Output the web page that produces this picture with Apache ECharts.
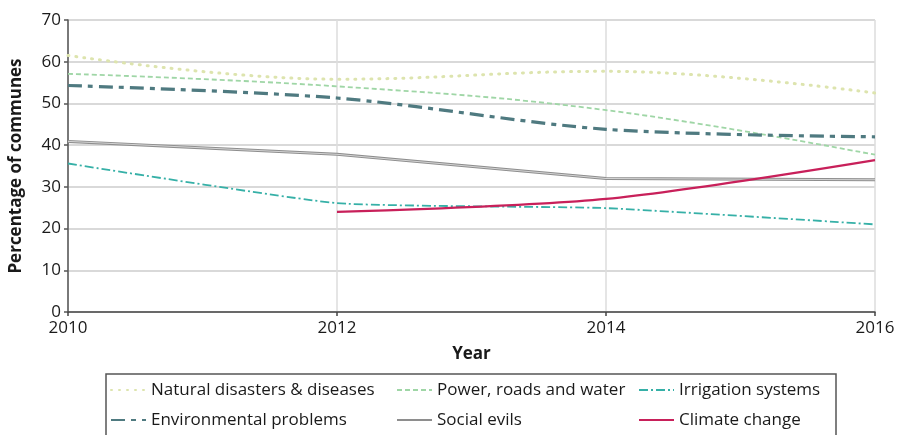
<!DOCTYPE html>
<html><head><meta charset="utf-8">
<script src="https://cdn.jsdelivr.net/npm/echarts@6/dist/echarts.min.js"></script>
<style>html,body{margin:0;padding:0;background:#fff}#c{width:899px;height:435px}</style>
</head><body><div id="c"></div>
<script>
var years = [2010, 2012, 2014, 2016];
var naturalDisasters = [61.5, 55.8, 57.7, 52.5];
var powerRoadsWater = [57.1, 54.1, 48.4, 37.7];
var irrigationSystems = [35.6, 26.1, 24.9, 21.0];
var environmentalProblems = [54.3, 51.3, 43.8, 42.0];
var socialEvils = [40.9, 37.8, 32.0, 31.7];
var climateChange = [null, 24.0, 27.1, 36.4];
var yTicks = [0, 10, 20, 30, 40, 50, 60, 70];

function pairs(vals){ return years.map(function(y,i){ return vals[i]==null ? null : [y, vals[i]]; }).filter(function(p){return p;}); }

var FONT = 'Open Sans';
var chart = echarts.init(document.getElementById('c'), null, {renderer:'canvas'});
var legendText = {fontFamily: FONT, fontSize: 17, color: '#1a1a1a', lineHeight:18};
function legendCol(left, names){
  return {orient:'vertical', left:left, top:381, itemWidth:35, itemHeight:14, itemGap:12,
    padding:0, textStyle: legendText, data: names, selectedMode:false,
    itemStyle:{color:'transparent', borderColor:'transparent', borderWidth:0}};
}
var option = {
  animation:false,
  backgroundColor:'#fff',
  grid:{left:68, right:24, top:20, bottom:123},
  legend:[
    legendCol(110, ['Natural disasters & diseases','Environmental problems']),
    legendCol(396, ['Power, roads and water','Social evils']),
    legendCol(638, ['Irrigation systems','Climate change'])
  ],
  graphic:[{type:'rect', shape:{x:106, y:374, width:730, height:70}, style:{fill:'none', stroke:'#555', lineWidth:1.5}, silent:true}],
  xAxis:{
    type:'value', min:2010, max:2016, interval:2,
    name:'Year', nameLocation:'middle', nameGap:34,
    nameTextStyle:{fontFamily:FONT, fontSize:17, fontWeight:'bold', color:'#1a1a1a'},
    axisLine:{lineStyle:{color:'#444', width:1.5}},
    axisTick:{show:true, length:4, lineStyle:{color:'#444', width:1.5}},
    axisLabel:{fontFamily:FONT, fontSize:17, color:'#1a1a1a', margin:8, formatter:function(v){return String(v);}},
    splitLine:{show:true, lineStyle:{color:'#dddddd', width:1.5}}
  },
  yAxis:{
    type:'value', min:0, max:70, interval:10,
    name:'Percentage of communes', nameLocation:'middle', nameGap:43,
    nameTextStyle:{fontFamily:FONT, fontSize:17, fontWeight:'bold', color:'#1a1a1a'},
    axisLine:{show:true, lineStyle:{color:'#555', width:1.5}},
    axisTick:{show:true, length:4, lineStyle:{color:'#555', width:1.5}},
    axisLabel:{fontFamily:FONT, fontSize:17, color:'#1a1a1a', margin:7},
    splitLine:{show:true, lineStyle:{color:'#cccccc', width:1.5}}
  },
  series:[
    {name:'Natural disasters & diseases', type:'line', data:pairs(naturalDisasters), smooth:0.4, symbol:'none',
      lineStyle:{color:'#dde4ae', width:3, type:[1,7], cap:'round'}, itemStyle:{color:'#dde4ae'}},
    {name:'Power, roads and water', type:'line', data:pairs(powerRoadsWater), smooth:0.4, symbol:'none',
      lineStyle:{color:'#9fd6a6', width:1.8, type:[5,3]}, itemStyle:{color:'#9fd6a6'}},
    {name:'Irrigation systems', type:'line', data:pairs(irrigationSystems), smooth:0.15, symbol:'none',
      lineStyle:{color:'#36b0a7', width:1.8, type:[9,3,2,3]}, itemStyle:{color:'#36b0a7'}},
    {name:'Environmental problems', type:'line', data:pairs(environmentalProblems), smooth:0.3, symbol:'none',
      lineStyle:{color:'#4f7a80', width:3.2, type:[14,6,5,6]}, itemStyle:{color:'#4f7a80'}},
    {name:'Social evils', type:'line', data:pairs(socialEvils), symbol:'none',
      lineStyle:{color:'#8e8e8e', width:3}, itemStyle:{color:'#8e8e8e'}},
    {name:'Social evils inner', type:'line', data:pairs(socialEvils), symbol:'none', silent:true,
      lineStyle:{color:'#d4d4d4', width:1}, itemStyle:{color:'#d4d4d4'}},
    {name:'Climate change', type:'line', data:pairs(climateChange), smooth:0.3, symbol:'none',
      lineStyle:{color:'#c8205a', width:2.2}, itemStyle:{color:'#c8205a'}}
  ]
};
chart.setOption(option);
</script></body></html>
